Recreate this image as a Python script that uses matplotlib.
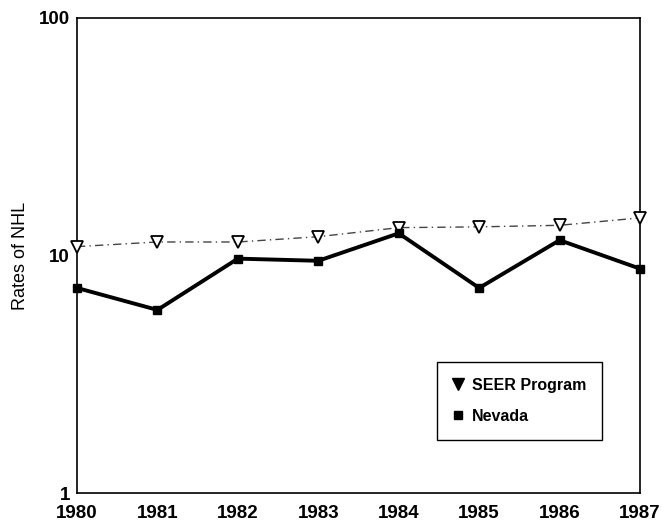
import matplotlib.pyplot as plt
from matplotlib.lines import Line2D

plt.rcParams['font.family'] = ['Liberation Sans', 'DejaVu Sans']

years = [1980, 1981, 1982, 1983, 1984, 1985, 1986, 1987]
seer = [10.9, 11.4, 11.4, 12.0, 13.1, 13.2, 13.4, 14.4]
nevada = [7.3, 5.9, 9.7, 9.5, 12.4, 7.3, 11.6, 8.8]
y_ticks = [1, 10, 100]
y_labels = ["1", "10", "100"]

fig = plt.figure(figsize=(6.62, 5.21), dpi=100)
ax = fig.add_axes([0.1163, 0.0537, 0.8505, 0.9118])

ax.plot(years, seer, color="#444444", lw=1.0, ls=(0, (6, 3, 1, 3)),
        marker="v", markersize=9, markerfacecolor="white",
        markeredgecolor="black", markeredgewidth=1.3, clip_on=False, zorder=3)
ax.plot(years, nevada, color="black", lw=2.8, marker="s", markersize=6,
        clip_on=False, zorder=4)

ax.set_yscale("log")
ax.set_ylim(1, 100)
ax.set_xlim(1980, 1987)
ax.set_yticks(y_ticks)
ax.set_yticklabels(y_labels)
ax.minorticks_off()
ax.set_xticks(years)
ax.set_xticklabels([str(y) for y in years])
ax.tick_params(length=0, labelsize=13.5)
ax.tick_params(axis="x", pad=8.5)
ax.tick_params(axis="y", pad=5)
for lab in ax.get_xticklabels() + ax.get_yticklabels():
    lab.set_fontweight("bold")
ax.set_ylabel("Rates of NHL", fontsize=13, labelpad=7)

for s in ax.spines.values():
    s.set_linewidth(1.2)

# legend shows filled markers only
handles = [Line2D([], [], color="black", marker="v", ls="none", markersize=8),
           Line2D([], [], color="black", marker="s", ls="none", markersize=6)]
leg = ax.legend(handles, ["SEER Program", "Nevada"], loc="upper left",
                bbox_to_anchor=(0.639, 0.276), fancybox=False, framealpha=1,
                edgecolor="black", handlelength=0.6, handletextpad=0.6,
                borderpad=1.0, labelspacing=1.0, borderaxespad=0,
                prop={"weight": "bold", "size": 11.5})
leg.get_frame().set_linewidth(1.0)

fig.savefig("out.png", dpi=100)
